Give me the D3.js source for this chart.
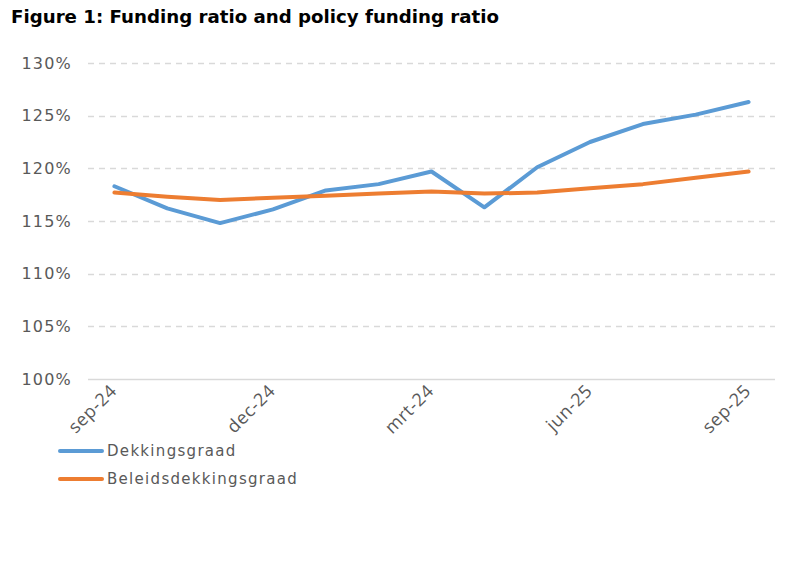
<!DOCTYPE html>
<html>
<head>
<meta charset="utf-8">
<script src="https://cdn.jsdelivr.net/npm/d3@7"></script>
<style>
  body { margin: 0; background: #fff; }
  svg { display: block; }
</style>
</head>
<body>
<div id="chart"></div>
<script>
// data
var months = ["sep-24", "okt-24", "nov-24", "dec-24", "jan-25", "feb-25", "mrt-24",
              "apr-25", "mei-25", "jun-25", "jul-25", "aug-25", "sep-25"];
var dekkingsgraad = [118.3, 116.2, 114.8, 116.1, 117.9, 118.5, 119.7, 116.3, 120.1, 122.5, 124.2, 125.1, 126.3];
var beleidsdekkingsgraad = [117.7, 117.3, 117.0, 117.2, 117.4, 117.6, 117.8, 117.6, 117.7, 118.1, 118.5, 119.1, 119.7];
var yTicks = [100, 105, 110, 115, 120, 125, 130];
var seriesNames = ["Dekkingsgraad", "Beleidsdekkingsgraad"];

var width = 785,
    height = 570,
    margin = ({ top: 63, right: 10, bottom: 191, left: 88 }),
    colors = ["#5B9BD5", "#ED7D31"],
    textColor = "#595959",
    gridColor = "#D9D9D9";

var svg = d3.select("#chart").append("svg")
    .attr("width", width)
    .attr("height", height);

svg.append("text")
    .attr("x", 11)
    .attr("y", 23)
    .style("font", "bold 18.2px Verdana, 'DejaVu Sans', sans-serif")
    .attr("fill", "#000")
    .text("Figure 1: Funding ratio and policy funding ratio");

var x = d3.scalePoint()
    .domain(d3.range(months.length))
    .range([margin.left, width - margin.right])
    .padding(0.5);

var y = d3.scaleLinear()
    .domain([100, 130])
    .range([height - margin.bottom, margin.top]);

// gridlines
svg.append("g")
    .selectAll("line")
    .data(yTicks)
    .join("line")
    .attr("x1", margin.left)
    .attr("x2", width - margin.right)
    .attr("y1", d => Math.round(y(d)) + 0.5)
    .attr("y2", d => Math.round(y(d)) + 0.5)
    .attr("stroke", gridColor)
    .attr("stroke-width", 1.5)
    .attr("stroke-dasharray", d => d === 100 ? null : "6,5");

// y axis labels
var yAxis = d3.axisLeft(y)
    .tickValues(yTicks)
    .tickSize(0)
    .tickPadding(16)
    .tickFormat(d => d + "%");

svg.append("g")
    .attr("transform", `translate(${margin.left},0)`)
    .call(yAxis)
    .call(g => g.select(".domain").remove())
    .call(g => g.selectAll("text")
        .attr("fill", textColor)
        .style("letter-spacing", "1.2px")
        .style("font", "16px Verdana, 'DejaVu Sans', sans-serif"));

// x axis labels, every third month, rotated
var xAxis = d3.axisBottom(x)
    .tickValues(d3.range(0, months.length, 3))
    .tickSize(0)
    .tickFormat(i => months[i]);

svg.append("g")
    .attr("transform", `translate(0,${height - margin.bottom})`)
    .call(xAxis)
    .call(g => g.select(".domain").remove())
    .call(g => g.selectAll("text")
        .attr("fill", textColor)
        .style("font", "18px 'Open Sans', sans-serif")
        .style("letter-spacing", "0.6px")
        .attr("text-anchor", "end")
        .attr("dy", null)
        .attr("y", 0)
        .attr("transform", "translate(3,13) rotate(-45)"));

var line = d3.line()
    .x((d, i) => x(i))
    .y(d => y(d));

[dekkingsgraad, beleidsdekkingsgraad].forEach(function(values, k) {
    svg.append("path")
        .datum(values)
        .attr("fill", "none")
        .attr("stroke", colors[k])
        .attr("stroke-width", 4)
        .attr("stroke-linejoin", "round")
        .attr("stroke-linecap", "round")
        .attr("d", line);
});

// legend
var legend = svg.append("g")
    .selectAll("g")
    .data(seriesNames)
    .join("g")
    .attr("transform", (d, i) => `translate(60,${451 + i * 28})`);

legend.append("line")
    .attr("x1", 0)
    .attr("x2", 42)
    .attr("stroke", (d, i) => colors[i])
    .attr("stroke-width", 4)
    .attr("stroke-linecap", "round");

legend.append("text")
    .attr("x", 47)
    .attr("dy", "0.35em")
    .attr("fill", textColor)
    .style("font", "15px Verdana, 'DejaVu Sans', sans-serif")
    .style("letter-spacing", "1.3px")
    .text(d => d);
</script>
</body>
</html>
